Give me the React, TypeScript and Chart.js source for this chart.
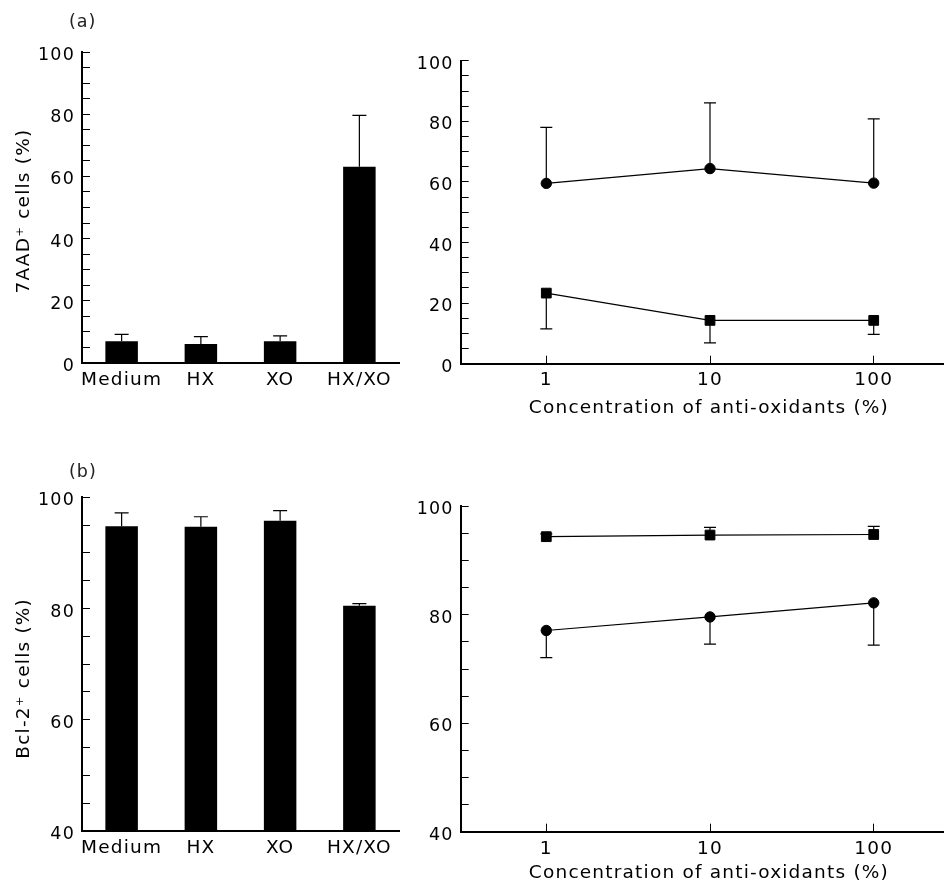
import React, { useEffect, useRef } from 'react';
import { Chart, registerables } from 'chart.js';

Chart.register(...registerables);

// ---------- data ----------
const GROUPS = ['Medium', 'HX', 'XO', 'HX/XO'];
const A_BAR_MEANS = [7.0, 6.1, 7.0, 63.1];
const A_BAR_SD = [2.2, 2.4, 1.7, 16.5];
const B_BAR_MEANS = [94.8, 94.7, 95.8, 80.5];
const B_BAR_SD = [2.4, 1.8, 1.8, 0.4];

const CONC = [1, 10, 100];
const A_CIRCLE = [59.5, 64.4, 59.6];
const A_CIRCLE_SD = [18.5, 21.7, 21.2];
const A_SQUARE = [23.3, 14.3, 14.3];
const A_SQUARE_SD = [11.8, 7.4, 4.6];
const B_SQUARE = [94.4, 94.7, 94.8];
const B_SQUARE_SD = [0.5, 1.4, 1.5];
const B_CIRCLE = [77.1, 79.6, 82.2];
const B_CIRCLE_SD = [5.0, 5.0, 7.8];

const A_Y_LABELS = [0, 20, 40, 60, 80, 100];
const B_Y_LABELS = [40, 60, 80, 100];
const X_TICKS = [1, 10, 100];

const A_Y_TITLE = '7AAD\u207A cells (%)\u00A0';
const B_Y_TITLE = 'Bcl-2\u207A cells (%)\u00A0\u00A0\u00A0\u00A0';
const X_TITLE = '\u00A0\u00A0Concentration of anti-oxidants (%)';

// ---------- style ----------
const FONT = "'DejaVu Sans', 'Liberation Sans', sans-serif";
const LS = '1.2px';

const letterSpacingPlugin = {
  id: 'letterSpacing',
  beforeDraw(chart: any) {
    (chart.ctx as any).letterSpacing = LS;
  },
};

const errorBarPlugin = {
  id: 'errorBars',
  beforeDatasetsDraw(chart: any) {
    const ctx = chart.ctx;
    const yScale = chart.scales.y;
    chart.data.datasets.forEach((ds: any, i: number) => {
      if (!ds.errors) return;
      const meta = chart.getDatasetMeta(i);
      ctx.save();
      ctx.strokeStyle = '#000';
      ctx.lineWidth = 1.2;
      meta.data.forEach((el: any, j: number) => {
        const raw = ds.data[j];
        const val = typeof raw === 'number' ? raw : raw.y;
        const err = ds.errors[j];
        if (!err) return;
        const x = el.x;
        const y0 = yScale.getPixelForValue(val);
        const y1 = yScale.getPixelForValue(val + ds.errDir * err);
        ctx.beginPath();
        ctx.moveTo(x, y0);
        ctx.lineTo(x, y1);
        ctx.moveTo(x - ds.capHalf, y1);
        ctx.lineTo(x + ds.capHalf, y1);
        ctx.stroke();
      });
      ctx.restore();
    });
  },
};

const border = { display: true, color: '#000', width: 2 };
const inwardGrid = {
  display: true,
  drawOnChartArea: false,
  drawTicks: true,
  tickLength: -8,
  color: '#000',
  lineWidth: 1,
};

function yScale(min: number, labels: number[], yW: number, title?: string) {
  return {
    min,
    max: 100,
    grid: inwardGrid,
    border,
    ticks: {
      stepSize: 5,
      autoSkip: false,
      color: '#000',
      font: { family: FONT, size: 17.5 },
      padding: 15,
      labelOffset: 3.5,
      callback: (v: any) => (labels.includes(Number(v)) ? String(v) : ''),
    },
    title: title
      ? {
          display: true,
          text: title,
          color: '#000',
          font: { family: FONT, size: 18.5 },
          padding: { top: 12.7, bottom: 0 },
        }
      : { display: false },
    afterFit: (s: any) => {
      s.width = yW;
    },
  };
}

function barConfig(means: number[], sds: number[], yMin: number, labels: number[], title: string, top: number, xH: number) {
  return {
    type: 'bar',
    data: {
      labels: GROUPS,
      datasets: [
        {
          data: means,
          errors: sds,
          errDir: 1,
          capHalf: 7,
          backgroundColor: '#000',
          borderWidth: 0,
          barPercentage: 0.41,
          categoryPercentage: 1,
        },
      ],
    },
    options: {
      animation: false,
      responsive: false,
      layout: { padding: { left: 0, top, right: 21, bottom: 0 } },
      plugins: { legend: { display: false }, tooltip: { enabled: false } },
      scales: {
        x: {
          grid: { display: false, drawTicks: false },
          border,
          ticks: { color: '#000', font: { family: FONT, size: 18.5 }, padding: 6.5, autoSkip: false, maxRotation: 0 },
          afterFit: (s: any) => {
            s.height = xH;
          },
        },
        y: yScale(yMin, labels, 82, title),
      },
    },
    plugins: [letterSpacingPlugin, errorBarPlugin],
  };
}

function lineConfig(
  series: { values: number[]; sd: number[]; dir: number; style: string; r: number }[],
  yMin: number,
  labels: number[],
  top: number,
  xH: number,
  tickPad: number,
  titlePad: number
) {
  return {
    type: 'line',
    data: {
      datasets: series.map((s) => ({
        data: CONC.map((c, i) => ({ x: c, y: s.values[i] })),
        errors: s.sd,
        errDir: s.dir,
        capHalf: 6,
        borderColor: '#000',
        borderWidth: 1.2,
        pointStyle: s.style,
        pointRadius: s.r,
        pointBackgroundColor: '#000',
        pointBorderColor: '#000',
        pointBorderWidth: 1,
        showLine: true,
        fill: false,
        tension: 0,
      })),
    },
    options: {
      animation: false,
      responsive: false,
      layout: { padding: { left: 0, top, right: 8, bottom: 0 } },
      plugins: { legend: { display: false }, tooltip: { enabled: false } },
      scales: {
        x: {
          type: 'logarithmic',
          min: 0.313,
          max: 265,
          afterBuildTicks: (s: any) => {
            s.ticks = X_TICKS.map((v) => ({ value: v }));
          },
          grid: inwardGrid,
          border,
          ticks: {
            color: '#000',
            font: { family: FONT, size: 18.5 },
            padding: tickPad,
            autoSkip: false,
            maxRotation: 0,
            callback: (v: any) => String(v),
          },
          title: {
            display: true,
            text: X_TITLE,
            color: '#000',
            font: { family: FONT, size: 18.5 },
            padding: { top: 0, bottom: titlePad },
          },
          afterFit: (s: any) => {
            s.height = xH;
          },
        },
        y: yScale(yMin, labels, 60.7),
      },
    },
    plugins: [letterSpacingPlugin, errorBarPlugin],
  };
}

function ChartCanvas({ config, left, top, width, height }: any) {
  const ref = useRef<HTMLCanvasElement>(null);
  useEffect(() => {
    const chart = new Chart(ref.current as HTMLCanvasElement, config);
    return () => chart.destroy();
  }, []);
  return (
    <canvas
      ref={ref}
      width={width}
      height={height}
      style={{ position: 'absolute', left, top, width, height }}
    />
  );
}

const panelLabel = (text: string, left: number, top: number) => (
  <div
    style={{
      position: 'absolute',
      left,
      top,
      fontFamily: FONT,
      fontSize: 17.5,
      letterSpacing: '1px',
      lineHeight: '20px',
      color: '#222',
    }}
  >
    {text}
  </div>
);

export default function App() {
  const aLeft = barConfig(A_BAR_MEANS, A_BAR_SD, 0, A_Y_LABELS, A_Y_TITLE, 52, 57);
  const bLeft = barConfig(B_BAR_MEANS, B_BAR_SD, 40, B_Y_LABELS, B_Y_TITLE, 57.3, 52);
  const aRight = lineConfig(
    [
      { values: A_CIRCLE, sd: A_CIRCLE_SD, dir: 1, style: 'circle', r: 5.2 },
      { values: A_SQUARE, sd: A_SQUARE_SD, dir: -1, style: 'rect', r: 6.9 },
    ],
    0,
    A_Y_LABELS,
    60.7,
    56.3,
    13.5,
    1.2
  );
  const bRight = lineConfig(
    [
      { values: B_SQUARE, sd: B_SQUARE_SD, dir: 1, style: 'rect', r: 6.9 },
      { values: B_CIRCLE, sd: B_CIRCLE_SD, dir: -1, style: 'circle', r: 5.2 },
    ],
    40,
    B_Y_LABELS,
    66.3,
    51.3,
    14.5,
    -1
  );
  return (
    <div
      style={{
        position: 'absolute',
        left: 0,
        top: 0,
        width: 951,
        height: 883,
        background: '#fff',
        overflow: 'hidden',
      }}
    >
      <ChartCanvas config={aLeft} left={0} top={0} width={420} height={420} />
      <ChartCanvas config={aRight} left={400} top={0} width={551} height={420} />
      <ChartCanvas config={bLeft} left={0} top={440} width={420} height={443} />
      <ChartCanvas config={bRight} left={400} top={440} width={551} height={443} />
      {panelLabel('(a)', 69, 11)}
      {panelLabel('(b)', 69, 461)}
    </div>
  );
}
